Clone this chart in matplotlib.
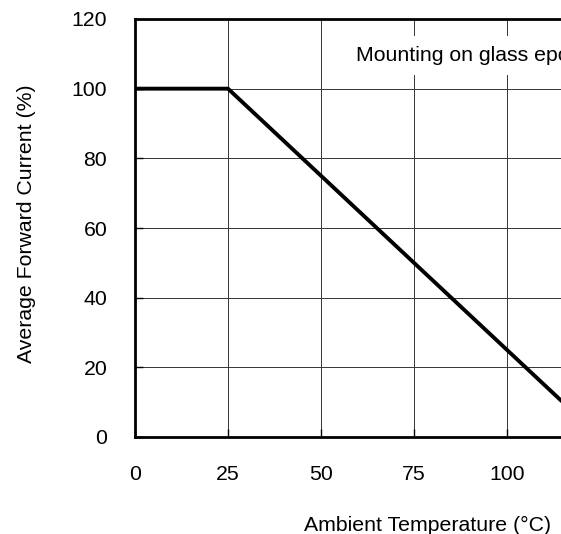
import numpy as np
import matplotlib.pyplot as plt

plt.rcParams['font.family'] = ['Liberation Sans', 'DejaVu Sans']

# derating curve
temp = [0, 25, 150]
current = [100, 100, -25]
x_ticks = [0, 25, 50, 75, 100]
grid_x = [125, 150]
y_ticks = [0, 20, 40, 60, 80, 100, 120]

fig = plt.figure(figsize=(5.61, 5.34), dpi=100)
# axes run past the right edge, the picture is cropped there
ax = fig.add_axes([135/561, 97/534, 150*3.72/561, 418/534])

ax.plot(temp, current, color='black', lw=2.8, solid_capstyle='butt', zorder=3)
ax.set_xlim(0, 150)
ax.set_ylim(0, 120)
ax.set_xticks(x_ticks)
ax.set_yticks(y_ticks)
ax.set_xticks(grid_x, minor=True)
ax.grid(True, which='both', axis='x', color='#333333', lw=0.7)
ax.grid(True, axis='y', color='#333333', lw=0.7)
ax.tick_params(which='minor', length=0)
ax.tick_params(direction='in', length=6, width=1, labelsize=15.3)
ax.tick_params(axis='x', pad=20)
ax.tick_params(axis='y', pad=20)
for s in ax.spines.values():
    s.set_linewidth(2)

ax.text(59.5, 109.5, 'Mounting on glass epoxy board', fontsize=15.3, va='center',
        bbox=dict(facecolor='white', edgecolor='none', pad=7), zorder=4)

fig.text(428/561, 1 - 525/534, 'Ambient Temperature (°C)', fontsize=15.3,
         ha='center', va='center')
fig.text(27/561, 1 - 224/534, 'Average Forward Current (%)', fontsize=15.3,
         ha='center', va='center', rotation=90)

fig.savefig('out.png', dpi=100)
